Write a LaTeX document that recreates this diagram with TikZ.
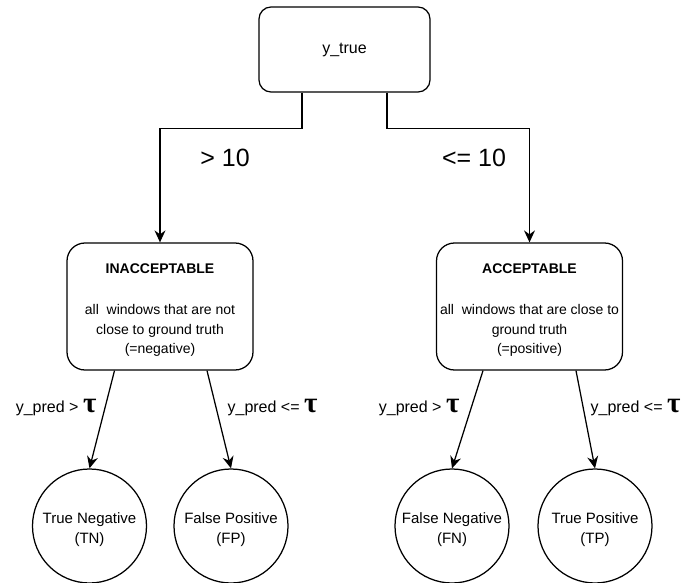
\documentclass[tikz,border=0pt]{standalone}
\usepackage{fontspec}
\setmainfont{Liberation Sans}
\newfontfamily\taufont{Liberation Serif}
\usetikzlibrary{arrows.meta}

\newcommand\bigtau{{\taufont\bfseries\fontsize{29}{29}\selectfont τ}}

\begin{document}
\begin{tikzpicture}[x=1pt,y=-1pt,
  line width=1.25pt,
  arr/.style={-{Stealth[length=12pt,width=11pt,inset=4pt]}},
  rootbox/.style={draw,rounded corners=12pt,minimum width=171pt,minimum height=85pt,inner sep=0pt,
    font=\fontsize{16}{19}\selectfont},
  classbox/.style={draw,rounded corners=18pt,minimum width=186pt,minimum height=127pt,inner sep=0pt},
  classtext/.style={align=center,inner sep=0pt,font=\fontsize{14}{19.5}\selectfont},
  outcome/.style={draw,circle,minimum size=114pt,inner sep=0pt},
  outtext/.style={align=center,inner sep=0pt,font=\fontsize{15}{20}\selectfont},
  cond/.style={font=\fontsize{25}{28}\selectfont},
  predlbl/.style={font=\fontsize{16}{20}\selectfont,inner sep=0pt}]

\useasboundingbox (0,0) rectangle (686,583);

% root
\node[rootbox] (top) at (344.5,49.5) {y\_true};

% classes
\node[classbox] (lb) at (160,306.5) {};
\node[classbox] (rb) at (529.5,306.5) {};
\node[classtext] (lbt) at ([yshift=-4pt]lb.center)
  {\textbf{INACCEPTABLE}\\[21.5pt]all\ \ windows that are not\\close to ground truth\\(=negative)};
\node[classtext] (rbt) at ([yshift=-4pt]rb.center)
  {\textbf{ACCEPTABLE}\\[21.5pt]all\ \ windows that are close to\\ground truth\\(=positive)};

% outcomes
\node[outcome] (tn) at (89.5,526) {};
\node[outcome] (fp) at (231,526) {};
\node[outcome] (fn) at (452,526) {};
\node[outcome] (tp) at (595,526) {};
\node[outtext] (tnt) at ([yshift=-4pt]tn.center) {True Negative\\(TN)};
\node[outtext] (fpt) at ([yshift=-4pt]fp.center) {False Positive\\(FP)};
\node[outtext] (fnt) at ([yshift=-4pt]fn.center) {False Negative\\(FN)};
\node[outtext] (tpt) at ([yshift=-4pt]tp.center) {True Positive\\(TP)};

% root splits
\draw[arr] ([xshift=-42.5pt]top.south) -- ++(0,36) -| (lb.north);
\draw[arr] ([xshift=42.5pt]top.south) -- ++(0,36) -| (rb.north);
\node[cond] (gt) at (225,158) {> 10};
\node[cond] (le) at (474,158) {<= 10};

% thresholds
\draw[arr] ([xshift=-45.5pt]lb.south) -- (tn.north);
\draw[arr] ([xshift=47pt]lb.south) -- (fp.north);
\draw[arr] ([xshift=-46.5pt]rb.south) -- (fn.north);
\draw[arr] ([xshift=46.5pt]rb.south) -- (tp.north);

\node[predlbl,anchor=east] (l1) at (97,408) {y\_pred > \bigtau};
\node[predlbl,anchor=west] (l2) at (227,408) {y\_pred <= \bigtau};
\node[predlbl,anchor=east] (l3) at (460,408) {y\_pred > \bigtau};
\node[predlbl,anchor=west] (l4) at (590,408) {y\_pred <= \bigtau};

\end{tikzpicture}
\end{document}
